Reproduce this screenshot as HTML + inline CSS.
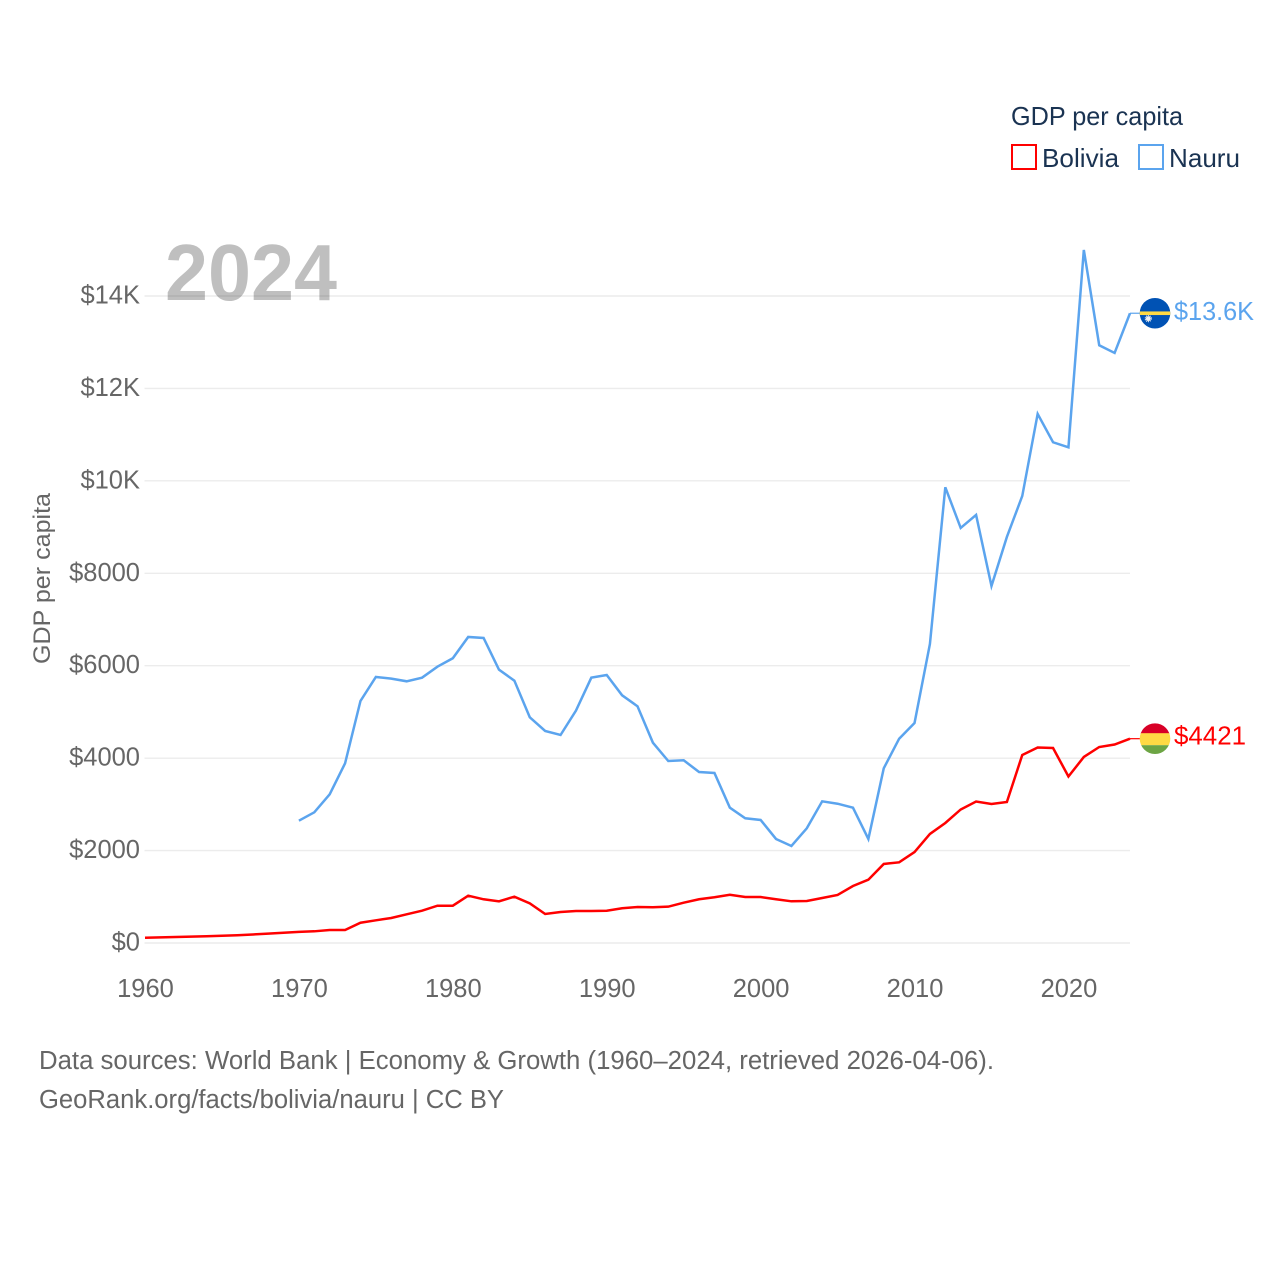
<!DOCTYPE html>
<html lang="en">
<head>
<meta charset="utf-8">
<title>GDP per capita: Bolivia and Nauru</title>
<style>
html,body{margin:0;padding:0;background:#fff;}
svg{display:block;font-family:"Liberation Sans",sans-serif;}
</style>
</head>
<body>
<svg id="chart" width="1280" height="1280" viewBox="0 0 1280 1280" xmlns="http://www.w3.org/2000/svg">
  <rect x="0" y="0" width="1280" height="1280" fill="#ffffff"/>
  <defs>
    <clipPath id="clip-flag-nauru"><circle id="clip-circle-nauru" cx="1155" cy="313" r="15.3"/></clipPath>
    <clipPath id="clip-flag-bolivia"><circle id="clip-circle-bolivia" cx="1155" cy="738" r="15.3"/></clipPath>
  </defs>

  <g id="grid"></g>
  <g id="ticks"></g>

  <text x="165" y="300" font-size="80" font-weight="700" fill="#000000" fill-opacity="0.25" textLength="172" lengthAdjust="spacingAndGlyphs">2024</text>

  <text transform="translate(50,664) rotate(-90)" font-size="24" fill="#666666" textLength="171" lengthAdjust="spacingAndGlyphs">GDP per capita</text>

  <g id="series"></g>
  <g id="ends"></g>

  <g>
    <text x="1011" y="125" font-size="26" fill="#1a3352" textLength="172" lengthAdjust="spacingAndGlyphs">GDP per capita</text>
    <rect x="1012" y="145" width="24" height="24" fill="#ffffff" stroke="#ff0000" stroke-width="2"/>
    <text x="1042" y="167" font-size="26" fill="#1a3352" textLength="77" lengthAdjust="spacingAndGlyphs">Bolivia</text>
    <rect x="1139" y="145" width="24" height="24" fill="#ffffff" stroke="#5ba4ee" stroke-width="2"/>
    <text x="1169" y="167" font-size="26" fill="#1a3352" textLength="71" lengthAdjust="spacingAndGlyphs">Nauru</text>
  </g>

  <g>
    <text x="39" y="1069" font-size="25.5" fill="#666666" textLength="955" lengthAdjust="spacingAndGlyphs">Data sources: World Bank | Economy &amp; Growth (1960–2024, retrieved 2026-04-06).</text>
    <text x="39" y="1108" font-size="25.5" fill="#666666" textLength="465" lengthAdjust="spacingAndGlyphs">GeoRank.org/facts/bolivia/nauru | CC BY</text>
  </g>
</svg>

<script>
const years = [1960,1961,1962,1963,1964,1965,1966,1967,1968,1969,1970,1971,1972,1973,1974,1975,1976,1977,1978,1979,1980,1981,1982,1983,1984,1985,1986,1987,1988,1989,1990,1991,1992,1993,1994,1995,1996,1997,1998,1999,2000,2001,2002,2003,2004,2005,2006,2007,2008,2009,2010,2011,2012,2013,2014,2015,2016,2017,2018,2019,2020,2021,2022,2023,2024];
const boliviaValues = [115,121,130,138,147,158,169,184,203,223,240,253,281,281,439,491,541,621,699,807,807,1024,946,902,1002,859,628,671,692,692,699,751,779,773,786,872,946,989,1045,995,995,946,902,909,974,1039,1233,1370,1710,1746,1969,2359,2597,2889,3062,3008,3051,4068,4231,4220,3603,4025,4241,4295,4421];
const nauruValues = [null,null,null,null,null,null,null,null,null,null,2647,2828,3218,3889,5237,5756,5720,5663,5741,5979,6161,6622,6600,5914,5676,4884,4588,4501,5027,5741,5800,5360,5122,4335,3938,3954,3700,3679,2928,2699,2662,2251,2099,2482,3066,3014,2928,2251,3780,4421,4761,6470,9861,8981,9262,7725,8786,9673,11448,10835,10727,14997,12934,12768,13627];
const yTickValues = [0,2000,4000,6000,8000,10000,12000,14000];
const yTickLabels = ["$0","$2000","$4000","$6000","$8000","$10K","$12K","$14K"];
const xTickValues = [1960,1970,1980,1990,2000,2010,2020];
const xTickLabels = ["1960","1970","1980","1990","2000","2010","2020"];

const SVG_NS = "http://www.w3.org/2000/svg";
const xScale = function (year) { return 145 + (year - 1960) * (1130 - 145) / 64; };
const yScale = function (value) { return 943 - value * (943 - 296) / 14000; };
const formatEnd = function (value) {
  return value >= 10000 ? "$" + (value / 1000).toFixed(1) + "K" : "$" + Math.round(value);
};
const make = function (tag, attrs, parent) {
  const el = document.createElementNS(SVG_NS, tag);
  Object.keys(attrs).forEach(function (k) { el.setAttribute(k, attrs[k]); });
  parent.appendChild(el);
  return el;
};

const gridGroup = document.getElementById("grid");
const tickGroup = document.getElementById("ticks");
yTickValues.forEach(function (v, i) {
  const line = make("line", {x1: 144.5, x2: 1130, y1: yScale(v), y2: yScale(v), stroke: "#ececec", "stroke-width": 1.4}, gridGroup);
  
  
  const label = make("text", {x: 140, y: yScale(v) + 7.5, "text-anchor": "end", "font-size": 25.5, fill: "#666666"}, tickGroup);
  label.textContent = yTickLabels[i];
  
  
});
xTickValues.forEach(function (v, i) {
  const label = make("text", {x: xScale(v) + 0.5, y: 997, "text-anchor": "middle", "font-size": 25.5, fill: "#666666"}, tickGroup);
  label.textContent = xTickLabels[i];
  
  
});

const seriesGroup = document.getElementById("series");
const pathFor = function (values) {
  let d = "";
  let open = false;
  values.forEach(function (v, i) {
    if (v === null) { open = false; return; }
    d += (open ? "L" : "M") + xScale(years[i]).toFixed(2) + " " + yScale(v).toFixed(2);
    open = true;
  });
  return d;
};
const nauruLine = make("path", {d: pathFor(nauruValues), fill: "none", stroke: "#5ba4ee", "stroke-width": 2.5, "stroke-linejoin": "miter"}, seriesGroup);


const boliviaLine = make("path", {d: pathFor(boliviaValues), fill: "none", stroke: "#ff0000", "stroke-width": 2.5, "stroke-linejoin": "miter"}, seriesGroup);



const endsGroup = document.getElementById("ends");
const lastNauru = nauruValues[nauruValues.length - 1];
const lastBolivia = boliviaValues[boliviaValues.length - 1];
const nauruY = yScale(lastNauru);
const boliviaY = yScale(lastBolivia);

document.getElementById("clip-circle-nauru").setAttribute("cy", nauruY);
document.getElementById("clip-circle-bolivia").setAttribute("cy", boliviaY);

const nauruConnector = make("line", {x1: 1130, x2: 1140, y1: nauruY, y2: nauruY, stroke: "#5ba4ee", "stroke-width": 1.2}, endsGroup);


const boliviaConnector = make("line", {x1: 1130, x2: 1140, y1: boliviaY, y2: boliviaY, stroke: "#ff0000", "stroke-width": 1.2}, endsGroup);



const nauruFlag = make("g", {"clip-path": "url(#clip-flag-nauru)"}, endsGroup);


make("rect", {x: 1139, y: nauruY - 16, width: 32, height: 32, fill: "#0052b4"}, nauruFlag);
make("rect", {x: 1139, y: nauruY - 1.8, width: 32, height: 3.6, fill: "#ffda44"}, nauruFlag);
make("circle", {cx: 1148.3, cy: nauruY + 5.4, r: 2.4, fill: "#f0f0f0"}, nauruFlag);
make("circle", {cx: 1148.3, cy: nauruY + 5.4, r: 3, fill: "none", stroke: "#f0f0f0", "stroke-width": 1.2, "stroke-dasharray": "1 0.9"}, nauruFlag);

const boliviaFlag = make("g", {"clip-path": "url(#clip-flag-bolivia)"}, endsGroup);


make("rect", {x: 1139, y: boliviaY - 16, width: 32, height: 11, fill: "#d80027"}, boliviaFlag);
make("rect", {x: 1139, y: boliviaY - 5.5, width: 32, height: 12, fill: "#ffda44"}, boliviaFlag);
make("rect", {x: 1139, y: boliviaY + 6.5, width: 32, height: 10, fill: "#6da544"}, boliviaFlag);

const nauruEnd = make("text", {x: 1174, y: nauruY + 7, "font-size": 25.5, fill: "#5ba4ee", textLength: 80, lengthAdjust: "spacingAndGlyphs"}, endsGroup);
nauruEnd.textContent = formatEnd(lastNauru);


const boliviaEnd = make("text", {x: 1174, y: boliviaY + 6, "font-size": 25.5, fill: "#ff0000", textLength: 72, lengthAdjust: "spacingAndGlyphs"}, endsGroup);
boliviaEnd.textContent = formatEnd(lastBolivia);


</script>
</body>
</html>
